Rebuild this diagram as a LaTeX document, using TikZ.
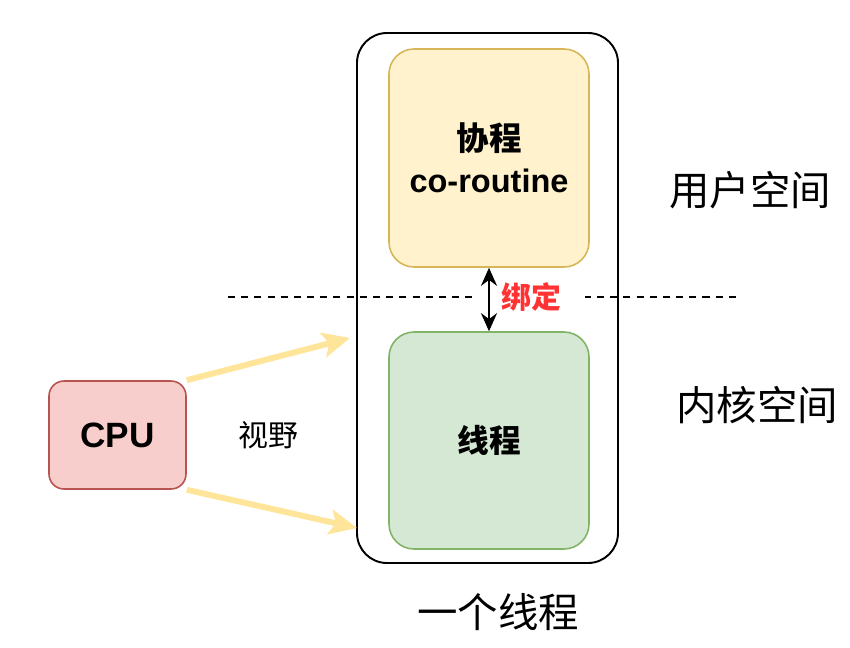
\documentclass[tikz,border=0pt]{standalone}
\usepackage{fontspec}
\setmainfont{Liberation Sans}
\newfontfamily\cjk{Noto Sans CJK SC}
\usetikzlibrary{
  positioning,
  arrows.meta
}
\definecolor{coFill}{HTML}{FFF2CC}
\definecolor{coDraw}{HTML}{D6B656}
\definecolor{thFill}{HTML}{D5E8D4}
\definecolor{thDraw}{HTML}{82B366}
\definecolor{cpuFill}{HTML}{F8CECC}
\definecolor{cpuDraw}{HTML}{B85450}
\definecolor{viewYellow}{HTML}{FFE599}
\definecolor{bindRed}{HTML}{FF3333}

\begin{document}
\begin{tikzpicture}[
  every node/.style={align=center},
  outer/.style={
    rectangle, rounded corners=0.6cm,
    draw=black, line width=1.1pt,
    minimum width=5.22cm, minimum height=10.6cm
  },
  corobox/.style={
    rectangle, rounded corners=0.5cm,
    draw=coDraw, fill=coFill, line width=0.9pt,
    minimum width=4cm, minimum height=4.36cm,
    font=\fontsize{18.5}{24}\selectfont\bfseries
  },
  threadbox/.style={
    rectangle, rounded corners=0.5cm,
    draw=thDraw, fill=thFill, line width=0.9pt,
    minimum width=4cm, minimum height=4.34cm,
    font=\fontsize{18}{24}\selectfont\bfseries\cjk
  },
  cpubox/.style={
    rectangle, rounded corners=0.3cm,
    draw=cpuDraw, fill=cpuFill, line width=0.9pt,
    minimum width=2.74cm, minimum height=2.16cm,
    font=\fontsize{20}{24}\selectfont\bfseries
  },
  space/.style={font=\fontsize{23}{28}\selectfont\cjk},
  view/.style={-{Stealth[length=0.55cm, width=0.5cm, inset=0.12cm]},
    viewYellow, line width=3.4pt},
  bind/.style={{Stealth[length=0.36cm, width=0.32cm]}-{Stealth[length=0.36cm, width=0.32cm]},
    line width=1.5pt},
  split/.style={dash pattern=on 4pt off 3.5pt, line width=0.8pt}
]
 % Frame of one thread
 \useasboundingbox (0,0) rectangle (17,-12.96);
 \node[outer] (frame) at (9.75,-5.96) {};

 % Boundary between user space and kernel space
 \coordinate (splitL) at (4.56,-5.94);
 \coordinate (splitR) at (14.76,-5.94);
 \draw[split] (splitL) -- (splitR);

 % Coroutine and thread
 \node[corobox] (coro) at (9.78,-3.16) {{\cjk 协程}\\co-routine};
 \node[threadbox] (thread) at (9.78,-8.81) {线程};

 \node[fill=white, text=bindRed, minimum width=2.14cm, inner sep=2pt,
   font=\fontsize{17}{20}\selectfont\bfseries\cjk] (bindlbl) at (10.63,-5.94) {绑定};
 \draw[bind] (coro.south) -- (thread.north);

 % CPU and its view
 \node[cpubox] (cpu) at (2.35,-8.7) {CPU};
 \node[font=\fontsize{17}{20}\selectfont\cjk] (viewlbl) at (5.36,-8.7) {视野};
 \coordinate (viewtop) at (7.0,-6.76);
 \coordinate (viewbot) at (7.14,-10.56);
 \draw[view] (cpu.north east) -- (viewtop);
 \draw[view] (cpu.south east) -- (viewbot);

 % Labels
 \node[space] (user) at (15.0,-3.8) {用户空间};
 \node[space] (kernel) at (15.14,-8.1) {内核空间};
 \node[space] (onethread) at (9.96,-12.24) {一个线程};
\end{tikzpicture}
\end{document}
